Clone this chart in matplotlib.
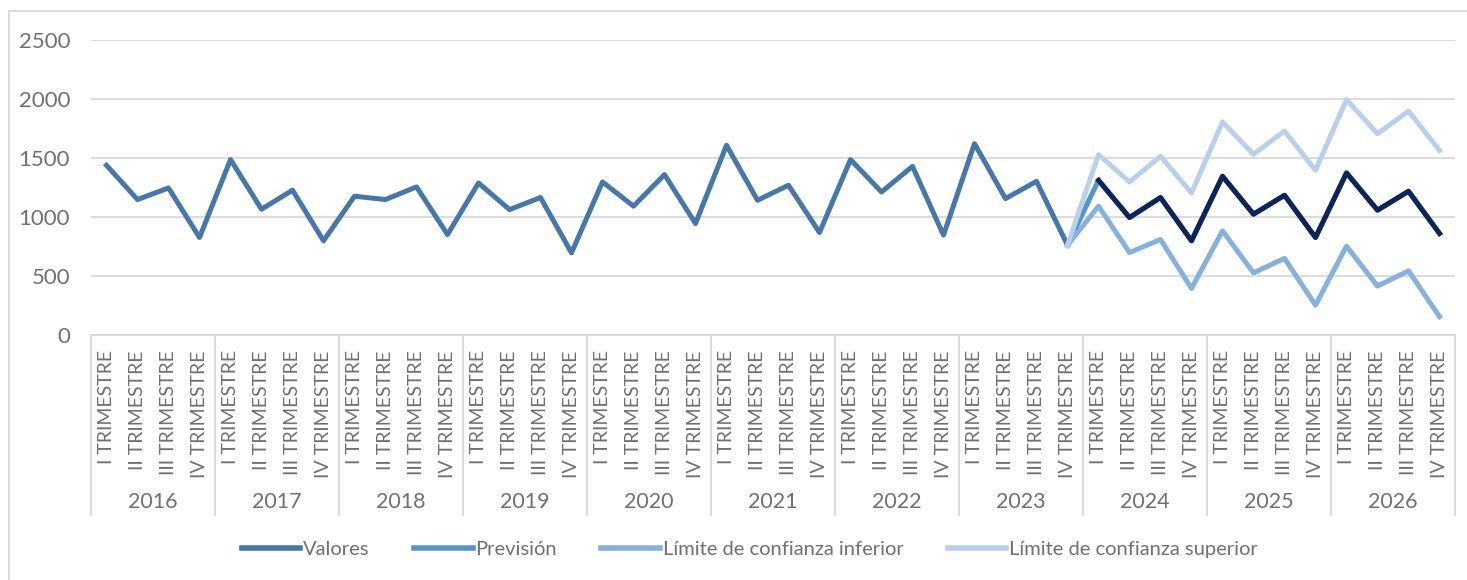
import numpy as np
import matplotlib
matplotlib.use('Agg')
import matplotlib.pyplot as plt
from matplotlib.lines import Line2D

plt.rcParams['font.family'] = ['Lato', 'DejaVu Sans']
plt.rcParams['font.weight'] = 'normal'

years = [str(y) for y in range(2016, 2027)]
quarters = ['I TRIMESTRE', 'II TRIMESTRE', 'III TRIMESTRE', 'IV TRIMESTRE']

# historico 2016 I - 2023 IV
valores = [1436, 1146, 1244, 825, 1484, 1064, 1225, 797,
           1174, 1146, 1253, 850, 1286, 1061, 1163, 695,
           1295, 1090, 1357, 943, 1605, 1140, 1267, 867,
           1484, 1210, 1427, 845, 1619, 1154, 1300, 760]
# prevision desde 2023 IV hasta 2026 IV
prevision = [760, 1309, 994, 1163, 797, 1343, 1022, 1182, 825, 1371, 1056, 1216, 859]
lim_inf = [760, 1090, 698, 808, 394, 881, 526, 648, 253, 752, 414, 543, 155]
lim_sup = [760, 1526, 1295, 1512, 1202, 1802, 1529, 1725, 1394, 1991, 1703, 1894, 1562]

c_val = '#4677A8'
c_prev = '#5693C9'
c_inf = '#86B0DD'
c_sup = '#B9D0EA'
c_navy = '#0E2358'
c_grid = '#D9D9D9'
c_text = '#707070'

n = len(years) * len(quarters)
x_val = np.arange(len(valores))
x_fc = np.arange(len(valores) - 1, n)

fig = plt.figure(figsize=(14.67, 5.8), dpi=100)
ax = fig.add_axes([91 / 1467, 1 - 335 / 580, 1364 / 1467, 295.5 / 580])

lw = 3.6
ax.plot(x_val, valores, color=c_val, lw=lw, label='Valores')
ax.plot(x_fc, prevision, color=c_prev, lw=lw, label='Previsión')
ax.plot(x_fc, lim_inf, color=c_inf, lw=lw, label='Límite de confianza inferior')
ax.plot(x_fc, lim_sup, color=c_sup, lw=lw, label='Límite de confianza superior')
ax.plot(x_fc[1:], prevision[1:], color=c_navy, lw=lw)

ax.set_xlim(-0.5, n - 0.5)
ax.set_ylim(0, 2500)
ax.set_yticks(range(0, 2501, 500))
ax.yaxis.grid(True, color=c_grid, lw=1.3)
ax.set_axisbelow(True)
for s in ['top', 'right', 'left']:
    ax.spines[s].set_visible(False)
ax.spines['bottom'].set_color(c_grid)
ax.spines['bottom'].set_linewidth(1.3)
ax.tick_params(axis='y', length=0, pad=15, labelsize=16, labelcolor=c_text)

ax.set_xticks(np.arange(n))
ax.set_xticklabels(quarters * len(years), rotation=90, fontsize=14, color=c_text)
ax.tick_params(axis='x', length=0, pad=11)

tr = ax.get_xaxis_transform()
for k in range(len(years) + 1):
    xb = k * 4 - 0.5
    ax.plot([xb, xb], [0, -180 / 295.5], transform=tr, color=c_grid, lw=1.3, clip_on=False)
for k, y in enumerate(years):
    ax.text(k * 4 + 1.5, -167 / 295.5, y, transform=tr, ha='center', va='center',
            fontsize=15.5, color=c_text)

# marco exterior
fig.add_artist(Line2D([8.5 / 1467, 8.5 / 1467], [0, 1 - 10.5 / 580], color=c_grid, lw=1.3))
fig.add_artist(Line2D([8.5 / 1467, 1], [1 - 10.5 / 580, 1 - 10.5 / 580], color=c_grid, lw=1.3))

leg = fig.legend(loc='center', bbox_to_anchor=(750 / 1467, 1 - 549 / 580), ncol=4,
                 frameon=False, fontsize=14.5, handlelength=2.9, handletextpad=0.15,
                 columnspacing=2.2, labelcolor=c_text)
for h in leg.get_lines():
    h.set_linewidth(4)

fig.savefig('out.png', dpi=100)
